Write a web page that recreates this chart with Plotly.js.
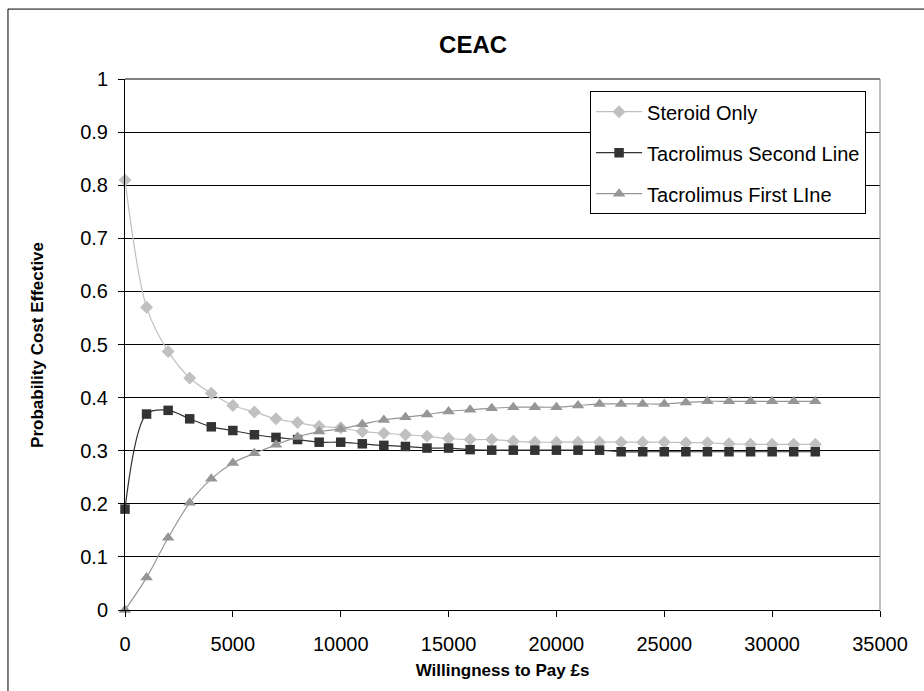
<!DOCTYPE html>
<html>
<head>
<meta charset="utf-8">
<script src="https://cdn.plot.ly/plotly-3.0.1.min.js"></script>
<style>
  html, body { margin: 0; padding: 0; background: #ffffff; }
  #chart { width: 924px; height: 691px; }
</style>
</head>
<body>
<div id="chart"></div>
<script>
// Willingness-to-pay thresholds (£)
const wtp = [0, 1000, 2000, 3000, 4000, 5000, 6000, 7000, 8000, 9000, 10000,
  11000, 12000, 13000, 14000, 15000, 16000, 17000, 18000, 19000, 20000,
  21000, 22000, 23000, 24000, 25000, 26000, 27000, 28000, 29000, 30000,
  31000, 32000];

// Probability each strategy is cost effective at each threshold
const steroidOnly = [0.81, 0.57, 0.487, 0.437, 0.408, 0.385, 0.373, 0.360, 0.353, 0.346, 0.343,
  0.336, 0.333, 0.330, 0.327, 0.323, 0.321, 0.321, 0.318, 0.316, 0.316,
  0.316, 0.316, 0.316, 0.316, 0.316, 0.315, 0.315, 0.313, 0.312, 0.312,
  0.312, 0.312];

const tacSecondLine = [0.19, 0.369, 0.376, 0.360, 0.345, 0.338, 0.330, 0.325, 0.321, 0.316, 0.316,
  0.313, 0.310, 0.308, 0.305, 0.305, 0.302, 0.301, 0.301, 0.301, 0.301,
  0.301, 0.301, 0.298, 0.298, 0.298, 0.298, 0.298, 0.298, 0.298, 0.298,
  0.298, 0.298];

const tacFirstLine = [0, 0.061, 0.136, 0.202, 0.247, 0.277, 0.295, 0.311, 0.326, 0.336, 0.341,
  0.350, 0.358, 0.363, 0.368, 0.374, 0.377, 0.380, 0.382, 0.382, 0.382,
  0.385, 0.388, 0.388, 0.388, 0.388, 0.391, 0.393, 0.393, 0.393, 0.393,
  0.393, 0.393];

const seriesNames = ["Steroid Only", "Tacrolimus Second Line", "Tacrolimus First LIne"];
const xTicks = [0, 5000, 10000, 15000, 20000, 25000, 30000, 35000];
const yTicks = [0, 0.1, 0.2, 0.3, 0.4, 0.5, 0.6, 0.7, 0.8, 0.9, 1];

const FONT = "Liberation Sans, Arial, sans-serif";

function series(name, y, color, symbol, size, group) {
  return {
    type: "scatter",
    mode: "lines+markers",
    name: name,
    x: wtp,
    y: y,
    legendgroup: group,
    line: { color: color, width: 1.2, shape: "spline", smoothing: 0.9 },
    marker: { color: color, symbol: symbol, size: size, line: { width: 0 } },
    cliponaxis: false
  };
}

const traces = [
  series(seriesNames[0], steroidOnly, "#c0c0c0", "diamond", 10, "g1"),
  series(seriesNames[1], tacSecondLine, "#333333", "square", 9.5, "g2"),
  series(seriesNames[2], tacFirstLine, "#969696", "triangle-up", 11, "g3")
];

const layout = {
  width: 924,
  height: 691,
  margin: { l: 125, r: 44, t: 79, b: 81, pad: 0 },
  paper_bgcolor: "#ffffff",
  plot_bgcolor: "#ffffff",
  font: { family: FONT, size: 20, color: "#000000" },
  showlegend: true,
  title: {
    text: "CEAC",
    font: { family: FONT, size: 24, weight: "bold", color: "#000000" },
    x: 0.512, xanchor: "center",
    y: 0.936, yanchor: "middle", yref: "container"
  },
  xaxis: {
    range: [0, 35000],
    tickvals: xTicks,
    ticktext: xTicks.map(String),
    ticks: "outside", ticklen: 6, tickwidth: 1, tickcolor: "#000000",
    showline: true, linecolor: "#000000", linewidth: 1,
    showgrid: false, zeroline: false,
    ticklabelstandoff: 10,
    tickfont: { family: FONT, size: 20, color: "#000000" },
    title: {
      text: "Willingness to Pay £s",
      font: { family: FONT, size: 17, weight: "bold", color: "#000000" },
      standoff: 10
    }
  },
  yaxis: {
    range: [0, 1],
    tickvals: yTicks,
    ticktext: yTicks.map(String),
    ticks: "outside", ticklen: 6, tickwidth: 1, tickcolor: "#000000",
    showline: true, linecolor: "#000000", linewidth: 1,
    showgrid: true, gridcolor: "#000000", gridwidth: 1,
    zeroline: false,
    ticklabelstandoff: 6,
    tickfont: { family: FONT, size: 20, color: "#000000" }
  },
  annotations: [
    // vertical axis title, set further out from the tick labels
    { text: "Probability Cost Effective", textangle: -90,
      xref: "paper", yref: "paper", x: -0.116, y: 0.5,
      xanchor: "center", yanchor: "middle", showarrow: false,
      font: { family: FONT, size: 17, weight: "bold", color: "#000000" } }
  ],
  legend: {
    x: 0.616, xanchor: "left",
    y: 0.977, yanchor: "top",
    bgcolor: "#ffffff",
    bordercolor: "#000000", borderwidth: 1,
    font: { family: FONT, size: 20, color: "#000000" },
    tracegroupgap: 12,
    itemwidth: 46
  },
  shapes: [
    // grey frame of the plotting area (top and right edges)
    { type: "line", xref: "paper", yref: "paper", x0: 0, x1: 1, y0: 1, y1: 1,
      line: { color: "#808080", width: 2 }, layer: "above" },
    { type: "line", xref: "paper", yref: "paper", x0: 1, x1: 1, y0: 0, y1: 1,
      line: { color: "#808080", width: 1 }, layer: "above" },
    // outer chart border
    { type: "rect", xref: "paper", yref: "paper",
      x0: -0.155, x1: 2, y0: -1, y1: 1.1317,
      line: { color: "#000000", width: 1 }, layer: "above" }
  ]
};

Plotly.newPlot("chart", traces, layout, { staticPlot: true, displayModeBar: false });
</script>
</body>
</html>
